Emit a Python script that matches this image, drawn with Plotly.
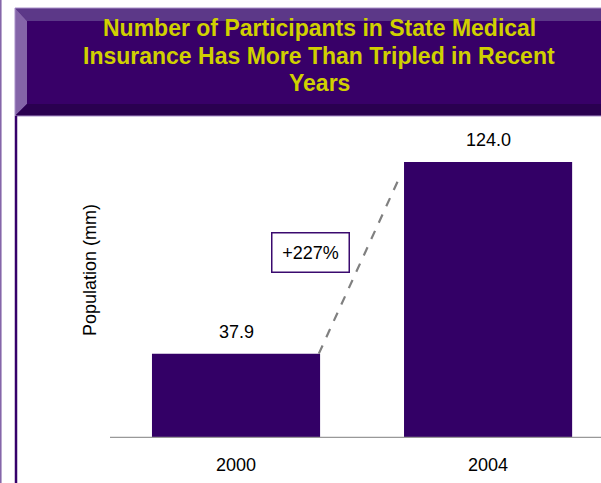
import plotly.graph_objects as go

# ---- data ----
categories = ["2000", "2004"]
values = [37.9, 124.0]
value_labels = ["37.9", "124.0"]
title_lines = ["Number of Participants in State Medical",
               "Insurance Has More Than Tripled in Recent",
               "Years"]
y_title = "Population (mm)"

W, H = 601, 483
BAR = "#330066"
FONT = "Liberation Sans, Arial, sans-serif"

def px(x):
    return x / W

def py(y):
    return (H - y) / H

growth = (values[1] / values[0] - 1) * 100
bar_width = 0.667

fig = go.Figure()
fig.add_trace(go.Bar(
    x=[0, 1], y=values, width=bar_width,
    marker=dict(color=BAR, line=dict(width=0)),
    hoverinfo="skip",
))

shapes = []
# title box
x0, x1, y0, y1 = 15, 610, 8, 116
shapes.append(dict(type="rect", xref="paper", yref="paper",
                   x0=px(x0), x1=px(x1), y0=py(y1), y1=py(y0),
                   fillcolor="#380068", line=dict(width=0), layer="above"))
# top bevel
shapes.append(dict(type="path", xref="paper", yref="paper",
                   path=f"M {px(x0)} {py(y0)} L {px(x1)} {py(y0)} L {px(x1)} {py(21)} L {px(27)} {py(21)} Z",
                   fillcolor="#5c3888", line=dict(width=0), layer="above"))
# left bevel
shapes.append(dict(type="path", xref="paper", yref="paper",
                   path=f"M {px(x0)} {py(y0)} L {px(27)} {py(21)} L {px(27)} {py(104)} L {px(x0)} {py(y1)} Z",
                   fillcolor="#8464a8", line=dict(width=0), layer="above"))
# bottom bevel
shapes.append(dict(type="path", xref="paper", yref="paper",
                   path=f"M {px(x0)} {py(y1)} L {px(27)} {py(104)} L {px(x1)} {py(104)} L {px(x1)} {py(y1)} Z",
                   fillcolor="#2a0050", line=dict(width=0), layer="above"))
# thin light outline of box
shapes.append(dict(type="rect", xref="paper", yref="paper",
                   x0=px(x0), x1=px(x1), y0=py(y1), y1=py(y0),
                   fillcolor="rgba(0,0,0,0)", line=dict(color="#a890c8", width=1), layer="above"))
# left page lines
shapes.append(dict(type="line", xref="paper", yref="paper",
                   x0=px(0.8), x1=px(0.8), y0=0, y1=1,
                   line=dict(color="#7f5fa5", width=1.5)))
shapes.append(dict(type="line", xref="paper", yref="paper",
                   x0=px(16), x1=px(16), y0=0, y1=py(y1),
                   line=dict(color="#36006a", width=2.5)))
# baseline
shapes.append(dict(type="line", xref="paper", yref="y",
                   x0=px(110), x1=1, y0=0, y1=0,
                   line=dict(color="#999999", width=2.5), layer="above"))
# dashed growth connector (from bar 1 top right corner toward bar 2)
shapes.append(dict(type="line", xref="x", yref="y",
                   x0=bar_width / 2 - 0.005, y0=values[0],
                   x1=1 - bar_width / 2 - 0.025, y1=values[1] * 0.93,
                   line=dict(color="#808080", width=2.2, dash="dash")))

annotations = []
title_y = [28.5, 55.5, 83.5]
for line, ty in zip(title_lines, title_y):
    annotations.append(dict(text="<b>" + line + "</b>", xref="paper", yref="paper",
                            x=px(319), y=py(ty), xanchor="center", yanchor="middle",
                            showarrow=False,
                            font=dict(family=FONT, size=23, color="#d0d000")))
annotations += [
    dict(text=f"+{growth:.0f}%", xref="x", yref="y", x=0.296, y=values[0] * 2.2,
         xanchor="center", yanchor="middle", showarrow=False,
         font=dict(family=FONT, size=18, color="#000000"),
         bgcolor="#ffffff", bordercolor="#3a0a6e", borderwidth=1.5,
         width=74, height=36, borderpad=1),
    dict(text=y_title, xref="paper", yref="paper", x=px(90), y=py(270),
         textangle=-90, showarrow=False, xanchor="center", yanchor="middle",
         font=dict(family=FONT, size=18, color="#000000")),
]
for i, (v, lab) in enumerate(zip(values, value_labels)):
    annotations.append(dict(text=lab, xref="x", yref="y", x=i, y=v,
                            xanchor="center", yanchor="bottom", yshift=10,
                            showarrow=False,
                            font=dict(family=FONT, size=18, color="#000000")))

fig.update_layout(
    width=W, height=H,
    margin=dict(l=0, r=0, t=0, b=0),
    paper_bgcolor="#ffffff", plot_bgcolor="#ffffff",
    showlegend=False,
    xaxis=dict(domain=[px(110), 1], range=[-0.5, 1.448],
               tickmode="array", tickvals=[0, 1], ticktext=categories,
               showgrid=False, zeroline=False, showline=False, ticks="",
               ticklabelstandoff=14,
               tickfont=dict(family=FONT, size=18, color="#000000")),
    yaxis=dict(domain=[py(438), py(115)], range=[0, 145.1],
               showgrid=False, zeroline=False, showline=False,
               showticklabels=False, ticks=""),
    shapes=shapes,
    annotations=annotations,
)

fig.write_html("out.html", config={"displayModeBar": False},
               post_script="document.body.style.margin='0';document.body.style.overflow='hidden';")
